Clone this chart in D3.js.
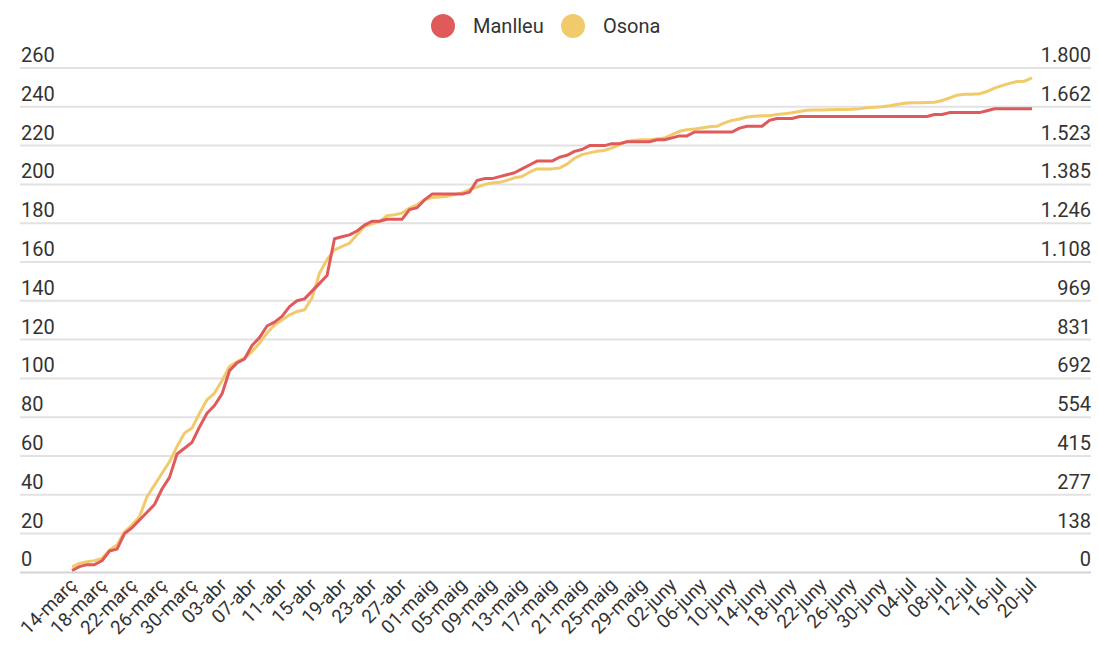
<!DOCTYPE html>
<html>
<head>
<meta charset="utf-8">
<script src="https://cdn.jsdelivr.net/npm/d3@7"></script>
<style>
	body{margin:0;background:#fff;font-family:Roboto,'Noto Sans',sans-serif;}
</style>
</head>
<body>
<div class="grafic"></div>
<script>
// dades: acumulats diaris des del 14-març fins al 20-jul
var inici=new Date(Date.UTC(2020,2,14));
var final=new Date(Date.UTC(2020,6,21));
var mesos=['gen','febr','març','abr','maig','juny','jul','ag','set','oct','nov','des'];

var manlleu=[1,3,4,4,6,11,12,20,23,27,31,35,43,49,61,64,67,75,82,86,92,
	104,108,110,117,121,127,129,132,137,140,141,145,149,153,172,173,174,176,179,181,181,182,182,
	182,187,188,192,195,195,195,195,195,196,202,203,203,204,205,206,208,210,212,212,212,214,215,217,218,
	220,220,220,221,221,222,222,222,222,223,223,224,225,225,227,227,227,227,227,227,229,230,230,230,233,234,234,234,235,
	235,235,235,235,235,235,235,235,235,235,235,235,235,235,235,235,
	235,236,236,237,237,237,237,237,238,239,239,239,239,239,239];

var osona=[20,32,38,42,50,80,98,145,169,199,270,312,354,395,449,497,515,568,616,640,684,
	735,752,765,788,818,854,883,901,919,931,937,979,1068,1116,1151,1163,1175,1205,1235,1244,1252,
	1273,1276,1282,1300,1312,1330,1338,1340,1342,1348,1354,1366,1375,1384,1390,1392,1399,1408,1413,1428,1440,1440,1440,1443,1457,
	1478,1491,1497,1503,1506,1515,1526,1538,1542,1544,1544,1547,1550,1562,1574,1580,1582,1586,1590,1592,1604,1613,1618,1625,1628,1630,1630,1634,1637,1640,1645,
	1649,1650,1650,1651,1652,1652,1653,1655,1658,1660,1662,1665,1670,1674,1676,1676,1677,1678,1684,1693,1703,1706,1706,1708,1716,1728,1737,1745,1752,1753,1765];

var ticsEsq=[0,20,40,60,80,100,120,140,160,180,200,220,240,260];
var ticsDret=[0,138,277,415,554,692,831,969,1108,1246,1385,1523,1662,1800];
var etiquetesDret=['0','138','277','415','554','692','831','969','1.108','1.246','1.385','1.523','1.662','1.800'];

var series=[
	{nom:'Manlleu',valors:manlleu,color:'#e05a5c',eix:'esq'},
	{nom:'Osona',valors:osona,color:'#f0ca6b',eix:'dret'}
];

var width=1099;
var height=652;
var dies=d3.utcDay.range(inici,final);

var svg=d3.select('div.grafic')
		.append('svg')
		.attr('width',width)
		.attr('height',height);

var xScale=d3.scaleUtc()
		.domain([dies[0],dies[dies.length-1]])
		.range([72,1032]);
var yEsq=d3.scaleLinear()
		.domain([0,260])
		.range([572.4,68]);
var yDret=d3.scaleLinear()
		.domain([0,1800])
		.range([572.4,68]);

//línies de la graella
svg.append('g')
	.selectAll('line')
	.data(ticsEsq)
	.enter()
	.append('line')
	.attr('x1',20)
	.attr('x2',1091)
	.attr('y1',function(d){return yEsq(d);})
	.attr('y2',function(d){return yEsq(d);})
	.attr('stroke',function(d){return d==0?'#d4d4d4':'#e2e2e2';})
	.attr('stroke-width',2);

//etiquetes eix esquerre
svg.append('g')
	.selectAll('text')
	.data(ticsEsq)
	.enter()
	.append('text')
	.attr('x',21)
	.attr('y',function(d){return yEsq(d)-6;})
	.attr('font-size','20px')
	.attr('fill','#333')
	.text(function(d){return d;});

//etiquetes eix dret
svg.append('g')
	.selectAll('text')
	.data(ticsDret)
	.enter()
	.append('text')
	.attr('x',1091)
	.attr('y',function(d){return yDret(d)-6;})
	.attr('text-anchor','end')
	.attr('font-size','20px')
	.attr('fill','#333')
	.text(function(d,i){return etiquetesDret[i];});

//eix x
var ticsX=dies.filter(function(d,i){return i%4==0;});
var eixX=svg.append('g')
	.attr('transform','translate(0,582)')
	.call(d3.axisBottom(xScale)
		.tickValues(ticsX)
		.tickSize(0)
		.tickFormat(function(d){
			return d3.utcFormat('%d')(d)+'-'+mesos[d.getUTCMonth()];
		})
	);
eixX.select('.domain').remove();
eixX.selectAll('text')
	.attr('font-family','Roboto')
	.attr('font-size','19px')
	.attr('fill','#333')
	.attr('text-anchor','end')
	.attr('dy','0.75em')
	.attr('transform','translate(-7,-8) rotate(-45)');

//línies
series.forEach(function(s){
	var y=s.eix=='esq'?yEsq:yDret;
	var linia=d3.line()
		.x(function(d,i){return xScale(dies[i]);})
		.y(function(d){return y(d);});
	svg.append('path')
		.datum(s.valors)
		.attr('fill','none')
		.attr('stroke',s.color)
		.attr('stroke-width',3)
		.attr('stroke-linejoin','round')
		.attr('d',linia);
});
// el Manlleu queda per sobre
svg.selectAll('path').filter(function(d){return d===manlleu;}).raise();

//llegenda
var llegenda=svg.append('g');
var posLlegenda=[443,573];
series.forEach(function(s,i){
	llegenda.append('circle')
		.attr('cx',posLlegenda[i])
		.attr('cy',26)
		.attr('r',12)
		.attr('fill',s.color);
	llegenda.append('text')
		.attr('x',posLlegenda[i]+30)
		.attr('y',33)
		.attr('font-size','20px')
		.attr('fill','#333')
		.text(s.nom);
});
</script>
</body>
</html>
